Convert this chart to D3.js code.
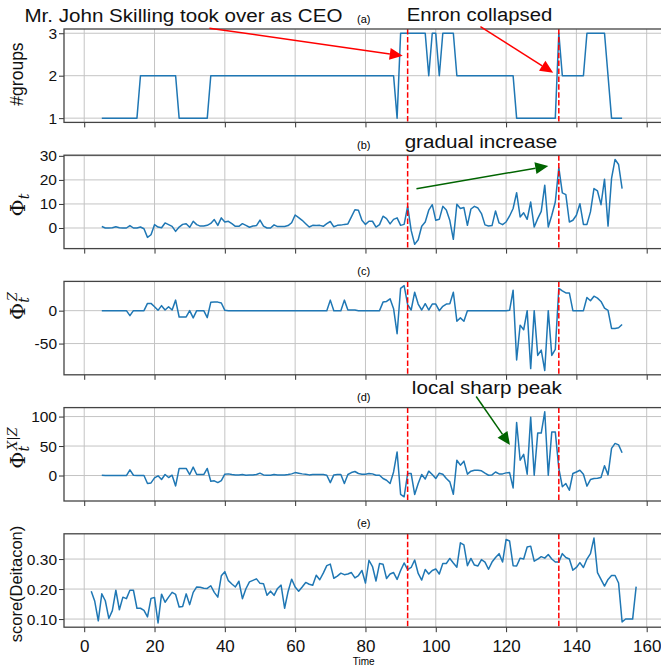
<!DOCTYPE html>
<html>
<head>
<meta charset="utf-8">
<script src="https://cdn.jsdelivr.net/npm/d3@7"></script>
<style>
  body { margin: 0; background: #fff; }
  svg text { font-family: "Liberation Sans", Arial, sans-serif; }
</style>
</head>
<body>
<div id="chart"></div>
<script>
// ---------- data ----------
// panels (a)-(d) run from t = 5 to 153, panel (e) from t = 2 to 157
const tStart = 5;
const tStartScore = 2;

const groupsCount = [
  1,1,1,1,1,1,1,1,1,1,1,
  2,2,2,2,2,2,2,2,2,2,2,
  1,1,1,1,1,1,1,1,1,
  2,2,2,2,2,2,2,2,2,2, 2,2,2,2,2,2,2,2,2,2, 2,2,2,2,2,2,2,2,2,2,
  2,2,2,2,2,2,2,2,2,2, 2,2,2,2,2,2,2,2,2,2, 2,2,2,
  1,
  3,3,3,3,3,3,3,3,
  2,3,3,2,3,3,3,3,
  2,2,2,2,2,2,2,2,2,2,2,2,2,2,2,2,2,
  1,1,1,1,1,1,1,1,1,1,1,1,
  3,
  2,2,2,2,2,2,2,
  3,3,3,3,3,3,
  2,
  1,1,1,1
];

const phiTotal = [
  0.6, 0, 0, 0.1, 0.5, 0.1, 0, 0, 1, 0,
  0, 0.4, -0.3, -3.9, -2.8, 1.4, 0.4, 0.1, 2.1, 1.4,
  0.7, -1.4, 0.4, 1.5, 1.8, 0.3, 2.8, 1.4, 0.8, 0.8,
  1.1, 1.9, 3.5, 1.1, 4.2, 2.5, 2.8, 1.8, 0.7, 0.7,
  1.8, 1.1, 0.3, 0.8, 1, 3.3, 0.8, 0, 0, 1.3,
  0.6, 0.6, 0.6, 1, 2.2, 5.4, 4.3, 3.2, 1.8, 0.4,
  1.1, 1, 1.1, 0.7, 1.8, 2.7, 0.5, 1.1, 1.2, 1.5,
  1.7, 4.6, 7.6, 7.4, 3.2, 1.5, 2.8, 2.8, 0.4, 1.4,
  4.9, 3.9, 1.7, 3.6, 4.2, 1.1, 1.5, 9, -1, -6.8,
  -4.9, 0.7, 2.5, 7.4, 9.7, 3.2, 3.6, 9, 7.5, 3.1,
  -4.7, 9.9, 8.1, 8.5, 1.1, 7.9, 9, 8.3, 6, 1.3,
  0.8, 1, 7.1, 2.1, 1.4, 2.5, 5, 8.1, 14.7, 4.6,
  6.3, 3.6, 10.8, 0.4, 3.9, 6.9, 17.8, 0.4, 5.3, 10.8,
  25.1, 14.6, 13.9, 2.5, 3.2, 5.3, 10.1, 1.5, 1.5, 6.7,
  16.4, 15.4, 9.7, 20.3, 0.8, 20.6, 28.5, 26.4, 16.4
];

const phiZ = [
  0, 0, 0, 0, 0, 0, 0, 0, -7.6, 0,
  0, 0, 0, 11, 11, 6, 0.5, 7.6, 1, 6,
  1, 16, -9.6, -9.6, -9.6, 0, -11, 0, 0, 0,
  -10.6, 12.6, 13, 13, 11.6, 0.5, 0, 0, 0, 0,
  0, 0, 0, 0, 0, 0, 0, 0, 0, 0,
  0, 0, 0, 0, 0, 0, 0, 0, 0, 0,
  0, 0, 0, 0, 0, 16, 0, 0, 0, 16,
  1, 1, 1, 0, 0, 0, 0, 0, 0, 0,
  13, 14, 18, 3, -35, 34, 38, 9, 1, 28,
  10, 1, 10.6, 1, 10, 10, 0, 6.6, 10, 10.6,
  28, -16, -11, -16, 0, 0, 0, 0, 0, 0,
  0, 0, 0, 0, 0, 0, 0.5, 31, -75, -22,
  -29, 0, -88, 0, -68, -60, -91, 0, -68, -59,
  34, 30, 27, 27, 0, 0, 0, 0, 20, 15,
  22, 19, 14, 4, 0.5, -27, -27, -26, -21
];

const phiXZ = [
  0.5, 0, 0, 0, 0, 0, 0, 0, 9.7, 0.5,
  0, 0, 0, -13.6, -12.5, -4, -0.5, -6.8, 1.7, -3.4,
  0.5, -17.6, 12, 12, 12, 1.7, 14.2, 1.7, 1.7, 1.7,
  12, -9.7, -9, -12, -8.5, 2.3, 2.8, 1.7, 1.1, 1.1,
  1.7, 0.5, 1.1, 1.1, 1.7, 4, 1.1, 0.5, 0.5, 1.7,
  1.1, 1.1, 1.1, 1.7, 2.8, 5, 4, 2.8, 2.3, 1.1,
  1.7, 1.7, 1.7, 1.7, 0.5, -12, 1.1, 1.7, 1.7, -13.6,
  1.7, 5, 6.8, 3.4, 2.3, 2.3, 3.4, 2.8, 0.5, 0.5,
  -5, -8, -13.6, 6, 40, -32, -36, 3.4, 3.4, -32,
  -13.6, 1.7, -6, 7.4, 1.7, -5, 4, 2.3, -5, -10.8,
  -31.8, 26, 17.6, 24.4, 2.3, 7.4, 9, 9, 8, 4,
  0.5, 1.1, 6, 2.8, 2.8, 4.5, 5, -21, 90, 26,
  36, 2.3, 99, 0.5, 72, 72, 108, 0.5, 74, 74,
  12, -19, -13.6, -25, 3.4, 6, 9, 2.3, -18, -6.8,
  -5, -4.5, -3.4, 16.5, 1.1, 46, 54.5, 52, 38.6
];

const deltaconScore = [
  0.193, 0.159, 0.094, 0.184, 0.161, 0.102, 0.128, 0.196, 0.131, 0.173,
  0.168, 0.196, 0.196, 0.136, 0.136, 0.129, 0.107, 0.169, 0.172, 0.087,
  0.183, 0.156, 0.173, 0.189, 0.182, 0.140, 0.142, 0.184, 0.148, 0.189,
  0.207, 0.206, 0.203, 0.202, 0.211, 0.189, 0.173, 0.244, 0.258, 0.228,
  0.217, 0.207, 0.226, 0.168, 0.201, 0.224, 0.229, 0.234, 0.219, 0.218,
  0.179, 0.193, 0.179, 0.202, 0.213, 0.136, 0.192, 0.233, 0.207, 0.193,
  0.207, 0.222, 0.216, 0.213, 0.246, 0.231, 0.253, 0.278, 0.283, 0.236,
  0.243, 0.253, 0.248, 0.250, 0.255, 0.237, 0.245, 0.262, 0.220, 0.296,
  0.275, 0.227, 0.285, 0.283, 0.235, 0.250, 0.255, 0.232, 0.262, 0.287,
  0.265, 0.272, 0.297, 0.252, 0.230, 0.265, 0.250, 0.262, 0.267, 0.250,
  0.285, 0.285, 0.302, 0.287, 0.273, 0.354, 0.347, 0.278, 0.302, 0.280,
  0.277, 0.298, 0.290, 0.266, 0.290, 0.305, 0.318, 0.290, 0.365, 0.360,
  0.278, 0.277, 0.303, 0.300, 0.340, 0.343, 0.293, 0.300, 0.308, 0.303,
  0.315, 0.300, 0.290, 0.290, 0.318, 0.305, 0.300, 0.263, 0.272, 0.288,
  0.272, 0.300, 0.318, 0.370, 0.255, 0.232, 0.210, 0.232, 0.245, 0.245,
  0.220, 0.090, 0.100, 0.100, 0.100, 0.208
];

// CEO change and the collapse
const eventTimes = [92, 135];

const xTicks = [0, 20, 40, 60, 80, 100, 120, 140, 160];
const groupsTicks = [1, 2, 3];
const phiTicks = [0, 10, 20, 30];
const phiZTicks = [-50, 0];
const phiXZTicks = [0, 50, 100];
const scoreTicks = [0.10, 0.20, 0.30];

function drawFigure() {
  // set up
  const width = 661, height = 667;
  const plotLeft = 64, plotRight = 663.4;
  const firstTop = 29, panelHeight = 93.4, panelStep = 126.2;
  const lineColor = '#1f77b4';
  const gridColor = '#c4c4c4';

  // matplotlib style 5% margins
  const pad = ([lo, hi]) => [lo - (hi - lo) * 0.05, hi + (hi - lo) * 0.05];

  const panels = [
    {title: '(a)', values: groupsCount, t0: tStart, ticks: groupsTicks, fmt: d3.format('d')},
    {title: '(b)', values: phiTotal, t0: tStart, ticks: phiTicks, fmt: d3.format('d')},
    {title: '(c)', values: phiZ, t0: tStart, ticks: phiZTicks, fmt: d => String(d)},
    {title: '(d)', values: phiXZ, t0: tStart, ticks: phiXZTicks, fmt: d3.format('d')},
    {title: '(e)', values: deltaconScore, t0: tStartScore, ticks: scoreTicks, fmt: d3.format('.2f')}
  ];

  const svg = d3.select('#chart')
    .append('svg')
      .attr('width', width)
      .attr('height', height);

  const x = d3.scaleLinear()
    .domain(pad([tStartScore, tStartScore + deltaconScore.length - 1]))
    .range([plotLeft, plotRight]);

  const yScales = [];

  panels.forEach((p, i) => {
    const top = firstTop + i * panelStep;
    const bottom = top + panelHeight;
    const points = p.values.map((v, j) => ({t: p.t0 + j, v: v}));

    const y = d3.scaleLinear()
      .domain(pad(d3.extent(p.values)))
      .range([bottom, top]);
    yScales.push(y);

    const g = svg.append('g');

    // grid lines
    g.append('g')
      .selectAll('line')
      .data(xTicks)
      .join('line')
        .attr('x1', d => x(d)).attr('x2', d => x(d))
        .attr('y1', top).attr('y2', bottom)
        .attr('stroke', gridColor)
        .attr('stroke-width', 1);

    g.append('g')
      .selectAll('line')
      .data(p.ticks)
      .join('line')
        .attr('x1', plotLeft).attr('x2', plotRight)
        .attr('y1', d => y(d)).attr('y2', d => y(d))
        .attr('stroke', gridColor)
        .attr('stroke-width', 1);

    // axes
    g.append('g')
      .attr('transform', `translate(${plotLeft},0)`)
      .call(d3.axisLeft(y).tickValues(p.ticks).tickSize(5).tickPadding(2).tickFormat(p.fmt))
      .call(a => a.select('.domain').remove())
      .call(a => a.selectAll('.tick line').attr('stroke', '#333'))
      .call(a => a.selectAll('text')
        .attr('font-family', '"Liberation Sans", Arial, sans-serif')
        .attr('font-size', 15.5)
        .attr('fill', '#111'));

    const isLast = i === panels.length - 1;
    g.append('g')
      .attr('transform', `translate(0,${bottom})`)
      .call(d3.axisBottom(x).tickValues(xTicks).tickSize(5).tickPadding(8)
        .tickFormat(isLast ? d3.format('d') : ''))
      .call(a => a.select('.domain').remove())
      .call(a => a.selectAll('.tick line').attr('stroke', '#333'))
      .call(a => a.selectAll('text')
        .attr('font-family', '"Liberation Sans", Arial, sans-serif')
        .attr('font-size', 17)
        .attr('fill', '#111'));

    // series
    const line = d3.line()
      .x(d => x(d.t))
      .y(d => y(d.v));

    g.append('path')
      .datum(points)
      .attr('d', line)
      .attr('fill', 'none')
      .attr('stroke', lineColor)
      .attr('stroke-width', 1.5)
      .attr('stroke-linejoin', 'round');

    // event markers
    g.append('g')
      .selectAll('line')
      .data(eventTimes)
      .join('line')
        .attr('x1', d => x(d)).attr('x2', d => x(d))
        .attr('y1', top).attr('y2', bottom)
        .attr('stroke', 'red')
        .attr('stroke-width', 1.5)
        .attr('stroke-dasharray', '5.5,2.4');

    // frame
    g.append('rect')
      .attr('x', plotLeft).attr('y', top)
      .attr('width', plotRight - plotLeft).attr('height', panelHeight)
      .attr('fill', 'none')
      .attr('stroke', '#444')
      .attr('stroke-width', 1.3);

    // panel title
    g.append('text')
      .attr('x', (plotLeft + plotRight) / 2)
      .attr('y', top - 6.5)
      .attr('text-anchor', 'middle')
      .attr('font-size', 11)
      .text(p.title);
  });

  // ---------- y labels ----------
  const yLabel = (cx, cy) => svg.append('text')
    .attr('transform', `translate(${cx},${cy}) rotate(-90)`)
    .attr('text-anchor', 'middle')
    .attr('fill', '#111');

  yLabel(22.5, 74).attr('font-size', 17.5).text('#groups');
  yLabel(22, 584).attr('font-size', 16.5).text('score(Deitacon)');

  const phiLabel = (cx, cy, sup) => {
    const t = yLabel(cx, cy).style('font-family', '"DejaVu Serif", "Liberation Serif", serif');
    t.append('tspan').attr('font-size', 21).text('\u03A6');
    t.append('tspan').attr('font-size', 14).attr('font-style', 'italic').attr('dy', 4).text('t');
    if (sup) {
      let first = true;
      sup.forEach(([s, italic]) => {
        const ts = t.append('tspan').attr('font-size', 13).text(s);
        if (italic) ts.attr('font-style', 'italic');
        if (first) { ts.attr('dx', -4).attr('dy', -12); first = false; }
      });
    }
  };
  phiLabel(25, 205, null);
  phiLabel(25, 306, [['Z', true]]);
  phiLabel(25, 448, [['X', true], ['|', false], ['Z', true]]);

  // ---------- annotations ----------
  function arrow(from, to, color) {
    const headLen = 13, headW = 12;
    const ang = Math.atan2(to[1] - from[1], to[0] - from[0]);
    const bx = to[0] - headLen * Math.cos(ang);
    const by = to[1] - headLen * Math.sin(ang);
    const nx = -Math.sin(ang) * headW / 2, ny = Math.cos(ang) * headW / 2;
    svg.append('line')
      .attr('x1', from[0]).attr('y1', from[1])
      .attr('x2', bx).attr('y2', by)
      .attr('stroke', color)
      .attr('stroke-width', 1.5);
    svg.append('polygon')
      .attr('points', `${to[0]},${to[1]} ${bx + nx},${by + ny} ${bx - nx},${by - ny}`)
      .attr('fill', color);
  }

  // [panel, text, text start (t, value), tail (t, value), tip (t, value), colour, text width]
  const notes = [
    [0, 'Mr. John Skilling took over as CEO', [-17, 3.26], [35.6, 3.12], [90.6, 2.47], 'red', 318],
    [0, 'Enron collapsed', [91.75, 3.28], [112.7, 3.155], [133.4, 2.07], 'red', 145.5],
    [1, 'gradual increase', [91.15, 33.2], [94.5, 16.3], [132, 25.8], '#006400', 152.6],
    [3, 'local sharp peak', [93.2, 137.5], [111.5, 134], [121.1, 51.8], '#006400', 150]
  ];

  notes.forEach(([pi, label, at, tail, tip, color, w]) => {
    const y = yScales[pi];
    svg.append('text')
      .attr('x', x(at[0]))
      .attr('y', y(at[1]))
      .attr('font-size', 18)
      .attr('fill', '#111')
      .attr('textLength', w)
      .attr('lengthAdjust', 'spacingAndGlyphs')
      .text(label);
    arrow([x(tail[0]), y(tail[1])], [x(tip[0]), y(tip[1])], color);
  });

  // x label
  svg.append('text')
    .attr('x', (plotLeft + plotRight) / 2)
    .attr('y', 665)
    .attr('text-anchor', 'middle')
    .attr('font-size', 10)
    .text('Time');
}

function init() {
  drawFigure();
}

window.onload = init;
</script>
</body>
</html>
